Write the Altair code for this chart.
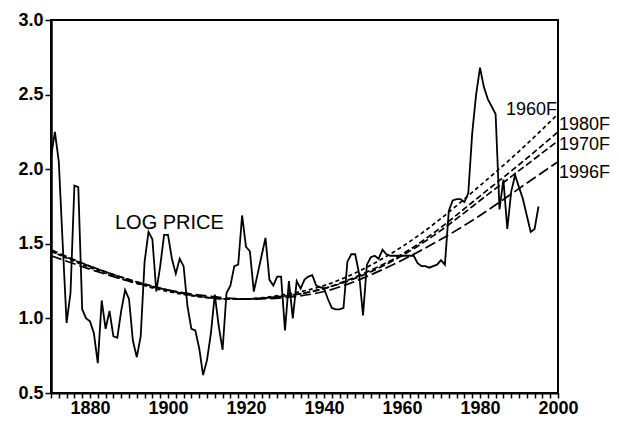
import altair as alt
import pandas as pd

# LOG PRICE series
years = list(range(1870, 1996))
log_price = [
    2.08, 2.25, 2.05, 1.50, 0.97, 1.17, 1.89, 1.88, 1.06, 1.00,  # 1870-1879
    0.98, 0.90, 0.70, 1.12, 0.93, 1.05, 0.88, 0.87, 1.05, 1.19,  # 1880-1889
    1.13, 0.85, 0.74, 0.88, 1.38, 1.58, 1.53, 1.18, 1.35, 1.56,  # 1890-1899
    1.56, 1.40, 1.30, 1.40, 1.35, 1.08, 0.93, 0.92, 0.80, 0.62,  # 1900-1909
    0.72, 0.90, 1.16, 0.95, 0.79, 1.17, 1.22, 1.35, 1.36, 1.69,  # 1910-1919
    1.48, 1.45, 1.18, 1.30, 1.42, 1.54, 1.26, 1.22, 1.28, 1.28,  # 1920-1929
    0.92, 1.25, 1.00, 1.25, 1.20, 1.26, 1.28, 1.29, 1.22, 1.21,  # 1930-1939
    1.20, 1.13, 1.07, 1.06, 1.06, 1.07, 1.38, 1.43, 1.43, 1.30,  # 1940-1949
    1.02, 1.36, 1.41, 1.42, 1.40, 1.46, 1.43, 1.42, 1.42, 1.42,  # 1950-1959
    1.42, 1.42, 1.42, 1.42, 1.37, 1.35, 1.35, 1.34, 1.35, 1.36,  # 1960-1969
    1.39, 1.36, 1.72, 1.79, 1.80, 1.80, 1.78, 1.84, 2.24, 2.50,  # 1970-1979
    2.68, 2.55, 2.47, 2.42, 2.37, 1.73, 1.93, 1.60, 1.85, 1.96,  # 1980-1989
    1.88, 1.80, 1.69, 1.58, 1.60, 1.75,                          # 1990-1995
]

# Quadratic trend / forecast curves, read at each decade
curve_years = [1870, 1880, 1890, 1900, 1910, 1920, 1930, 1940, 1950, 1960, 1970, 1980, 1990, 2000]
f1960 = [1.45, 1.34, 1.25, 1.18, 1.14, 1.13, 1.16, 1.22, 1.33, 1.48, 1.67, 1.89, 2.12, 2.37]
f1970 = [1.46, 1.35, 1.26, 1.19, 1.14, 1.13, 1.15, 1.20, 1.29, 1.42, 1.59, 1.79, 1.99, 2.19]
f1980 = [1.45, 1.35, 1.26, 1.19, 1.14, 1.13, 1.15, 1.20, 1.30, 1.43, 1.61, 1.82, 2.03, 2.25]
f1996 = [1.42, 1.33, 1.25, 1.19, 1.15, 1.13, 1.14, 1.18, 1.27, 1.39, 1.53, 1.69, 1.87, 2.05]

series_names = ["1960F", "1970F", "1980F", "1996F"]

# Annotations
title_label = ["LOG PRICE"]
title_label_x = [1886.4]
title_label_y = [1.596]
left_labels = ["1980F", "1970F", "1996F"]
left_label_x = [2000, 2000, 2000]
left_label_y = [2.265, 2.13, 1.94]
right_labels = ["1960F"]
right_label_x = [2000]
right_label_y = [2.365]

x_tick_values = list(range(1870, 2001, 2))
y_tick_values = [0.5, 1.0, 1.5, 2.0, 2.5, 3.0]

FONT = "Liberation Sans"

price_df = pd.DataFrame({"year": years, "value": log_price})
curve_df = pd.concat([
    pd.DataFrame({"year": curve_years, "value": vals, "series": name})
    for name, vals in zip(series_names, [f1960, f1970, f1980, f1996])
])
title_df = pd.DataFrame({"year": title_label_x, "value": title_label_y, "label": title_label})
left_df = pd.DataFrame({"year": left_label_x, "value": left_label_y, "label": left_labels})
right_df = pd.DataFrame({"year": right_label_x, "value": right_label_y, "label": right_labels})

x_scale = alt.Scale(domain=[1870, 2000], nice=False, zero=False)
y_scale = alt.Scale(domain=[0.5, 3.0], nice=False, zero=False)

x_axis = alt.Axis(
    values=x_tick_values,
    labelExpr="datum.value % 20 == 0 ? datum.label : ''",
    tickSize=5,
    tickColor="black", tickWidth=1.5,
    domainColor="black", domainWidth=2,
    labelFont=FONT, labelFontSize=18, labelFontWeight="bold", labelColor="black",
    labelPadding=1, labelFlush=False, labelOverlap=False, labelBound=False,
    format="d",
    grid=False, title=None,
)
y_axis = alt.Axis(
    values=y_tick_values, format=".1f",
    tickSize=6, tickColor="black", tickWidth=1.5,
    domainColor="black", domainWidth=2.5,
    labelFont=FONT, labelFontSize=18, labelFontWeight="bold", labelColor="black",
    labelPadding=2, grid=False, title=None,
)

X = alt.X("year:Q", scale=x_scale, axis=x_axis)
Y = alt.Y("value:Q", scale=y_scale, axis=y_axis)

price = alt.Chart(price_df).mark_line(color="black", strokeWidth=1.8).encode(x=X, y=Y)

curves = alt.Chart(curve_df).mark_line(color="black", strokeWidth=1.7, interpolate="natural").encode(
    x=X,
    y=Y,
    detail="series:N",
    strokeDash=alt.StrokeDash(
        "series:N",
        scale=alt.Scale(domain=series_names, range=[[4, 3], [7, 3], [6, 3], [11, 4]]),
        legend=None,
    ),
)

title_text = alt.Chart(title_df).mark_text(
    align="left", baseline="alphabetic", font=FONT, fontSize=20, color="black"
).encode(x=X, y=Y, text="label:N")
left_text = alt.Chart(left_df).mark_text(
    align="left", baseline="alphabetic", dx=1, font=FONT, fontSize=18, color="black"
).encode(x=X, y=Y, text="label:N")
right_text = alt.Chart(right_df).mark_text(
    align="right", baseline="alphabetic", dx=-1, font=FONT, fontSize=18, color="black"
).encode(x=X, y=Y, text="label:N")

chart = alt.layer(price, curves, title_text, left_text, right_text).properties(
    width=507, height=373,
    autosize=alt.AutoSizeParams(type="none"),
    padding={"left": 43, "top": 12, "right": 53, "bottom": 24},
    background="white",
).configure_view(stroke="black", strokeWidth=2)

chart.save("out.html", embed_options={"renderer": "svg", "actions": False})
